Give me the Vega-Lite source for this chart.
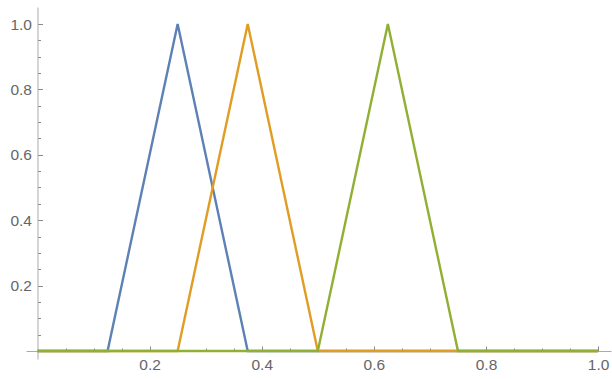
{
  "$schema": "https://vega.github.io/schema/vega-lite/v6.json",
  "width": 585,
  "height": 352,
  "autosize": "none",
  "padding": {"left": 26, "top": 7, "right": 1, "bottom": 20},
  "background": "white",
  "config": {"view": {"stroke": null}, "axis": {"grid": false, "labelFont": "Liberation Sans", "labelFontSize": 15.5, "labelColor": "#666666", "domainColor": "#aaaaaa", "tickColor": "#888888", "title": null}},
  "data": {"values": [
    {"s": "a", "x": 0, "y": 0}, {"s": "a", "x": 0.125, "y": 0}, {"s": "a", "x": 0.25, "y": 1}, {"s": "a", "x": 0.375, "y": 0}, {"s": "a", "x": 1, "y": 0},
    {"s": "b", "x": 0, "y": 0}, {"s": "b", "x": 0.25, "y": 0}, {"s": "b", "x": 0.375, "y": 1}, {"s": "b", "x": 0.5, "y": 0}, {"s": "b", "x": 1, "y": 0},
    {"s": "c", "x": 0, "y": 0}, {"s": "c", "x": 0.5, "y": 0}, {"s": "c", "x": 0.625, "y": 1}, {"s": "c", "x": 0.75, "y": 0}, {"s": "c", "x": 1, "y": 0}
  ]},
  "resolve": {"axis": {"x": "independent", "y": "independent"}},
  "layer": [
    {
      "mark": {"type": "line", "strokeWidth": 0, "opacity": 0},
      "encoding": {
        "x": {"field": "x", "type": "quantitative", "scale": {"domain": [-0.0205, 1.023], "nice": false, "zero": false},
              "axis": {"orient": "bottom", "offset": -8, "values": [0.05,0.1,0.15,0.25,0.3,0.35,0.45,0.5,0.55,0.65,0.7,0.75,0.85,0.9,0.95], "labels": false, "tickSize": -3, "domain": false}},
        "y": {"field": "y", "type": "quantitative", "scale": {"domain": [-0.0245, 1.052], "nice": false, "zero": false},
              "axis": {"orient": "left", "offset": -11.5, "values": [0.05,0.1,0.15,0.25,0.3,0.35,0.45,0.5,0.55,0.65,0.7,0.75,0.85,0.9,0.95], "labels": false, "tickSize": -3, "domain": false}},
        "detail": {"field": "s"}
      }
    },
    {
      "mark": {"type": "line", "strokeWidth": 2.4},
      "encoding": {
        "x": {"field": "x", "type": "quantitative", "scale": {"domain": [-0.0205, 1.023], "nice": false, "zero": false},
              "axis": {"orient": "bottom", "offset": -8, "values": [0.2,0.4,0.6,0.8,1.0], "format": ".1f", "tickSize": -5, "labelPadding": 11}},
        "y": {"field": "y", "type": "quantitative", "scale": {"domain": [-0.0245, 1.052], "nice": false, "zero": false},
              "axis": {"orient": "left", "offset": -11.5, "values": [0.2,0.4,0.6,0.8,1.0], "format": ".1f", "tickSize": -5, "labelPadding": 11}},
        "color": {"field": "s", "type": "nominal", "scale": {"domain": ["a","b","c"], "range": ["#5E81B5", "#E19C24", "#8FB032"]}, "legend": null},
        "order": {"field": "x"}
      }
    }
  ]
}
